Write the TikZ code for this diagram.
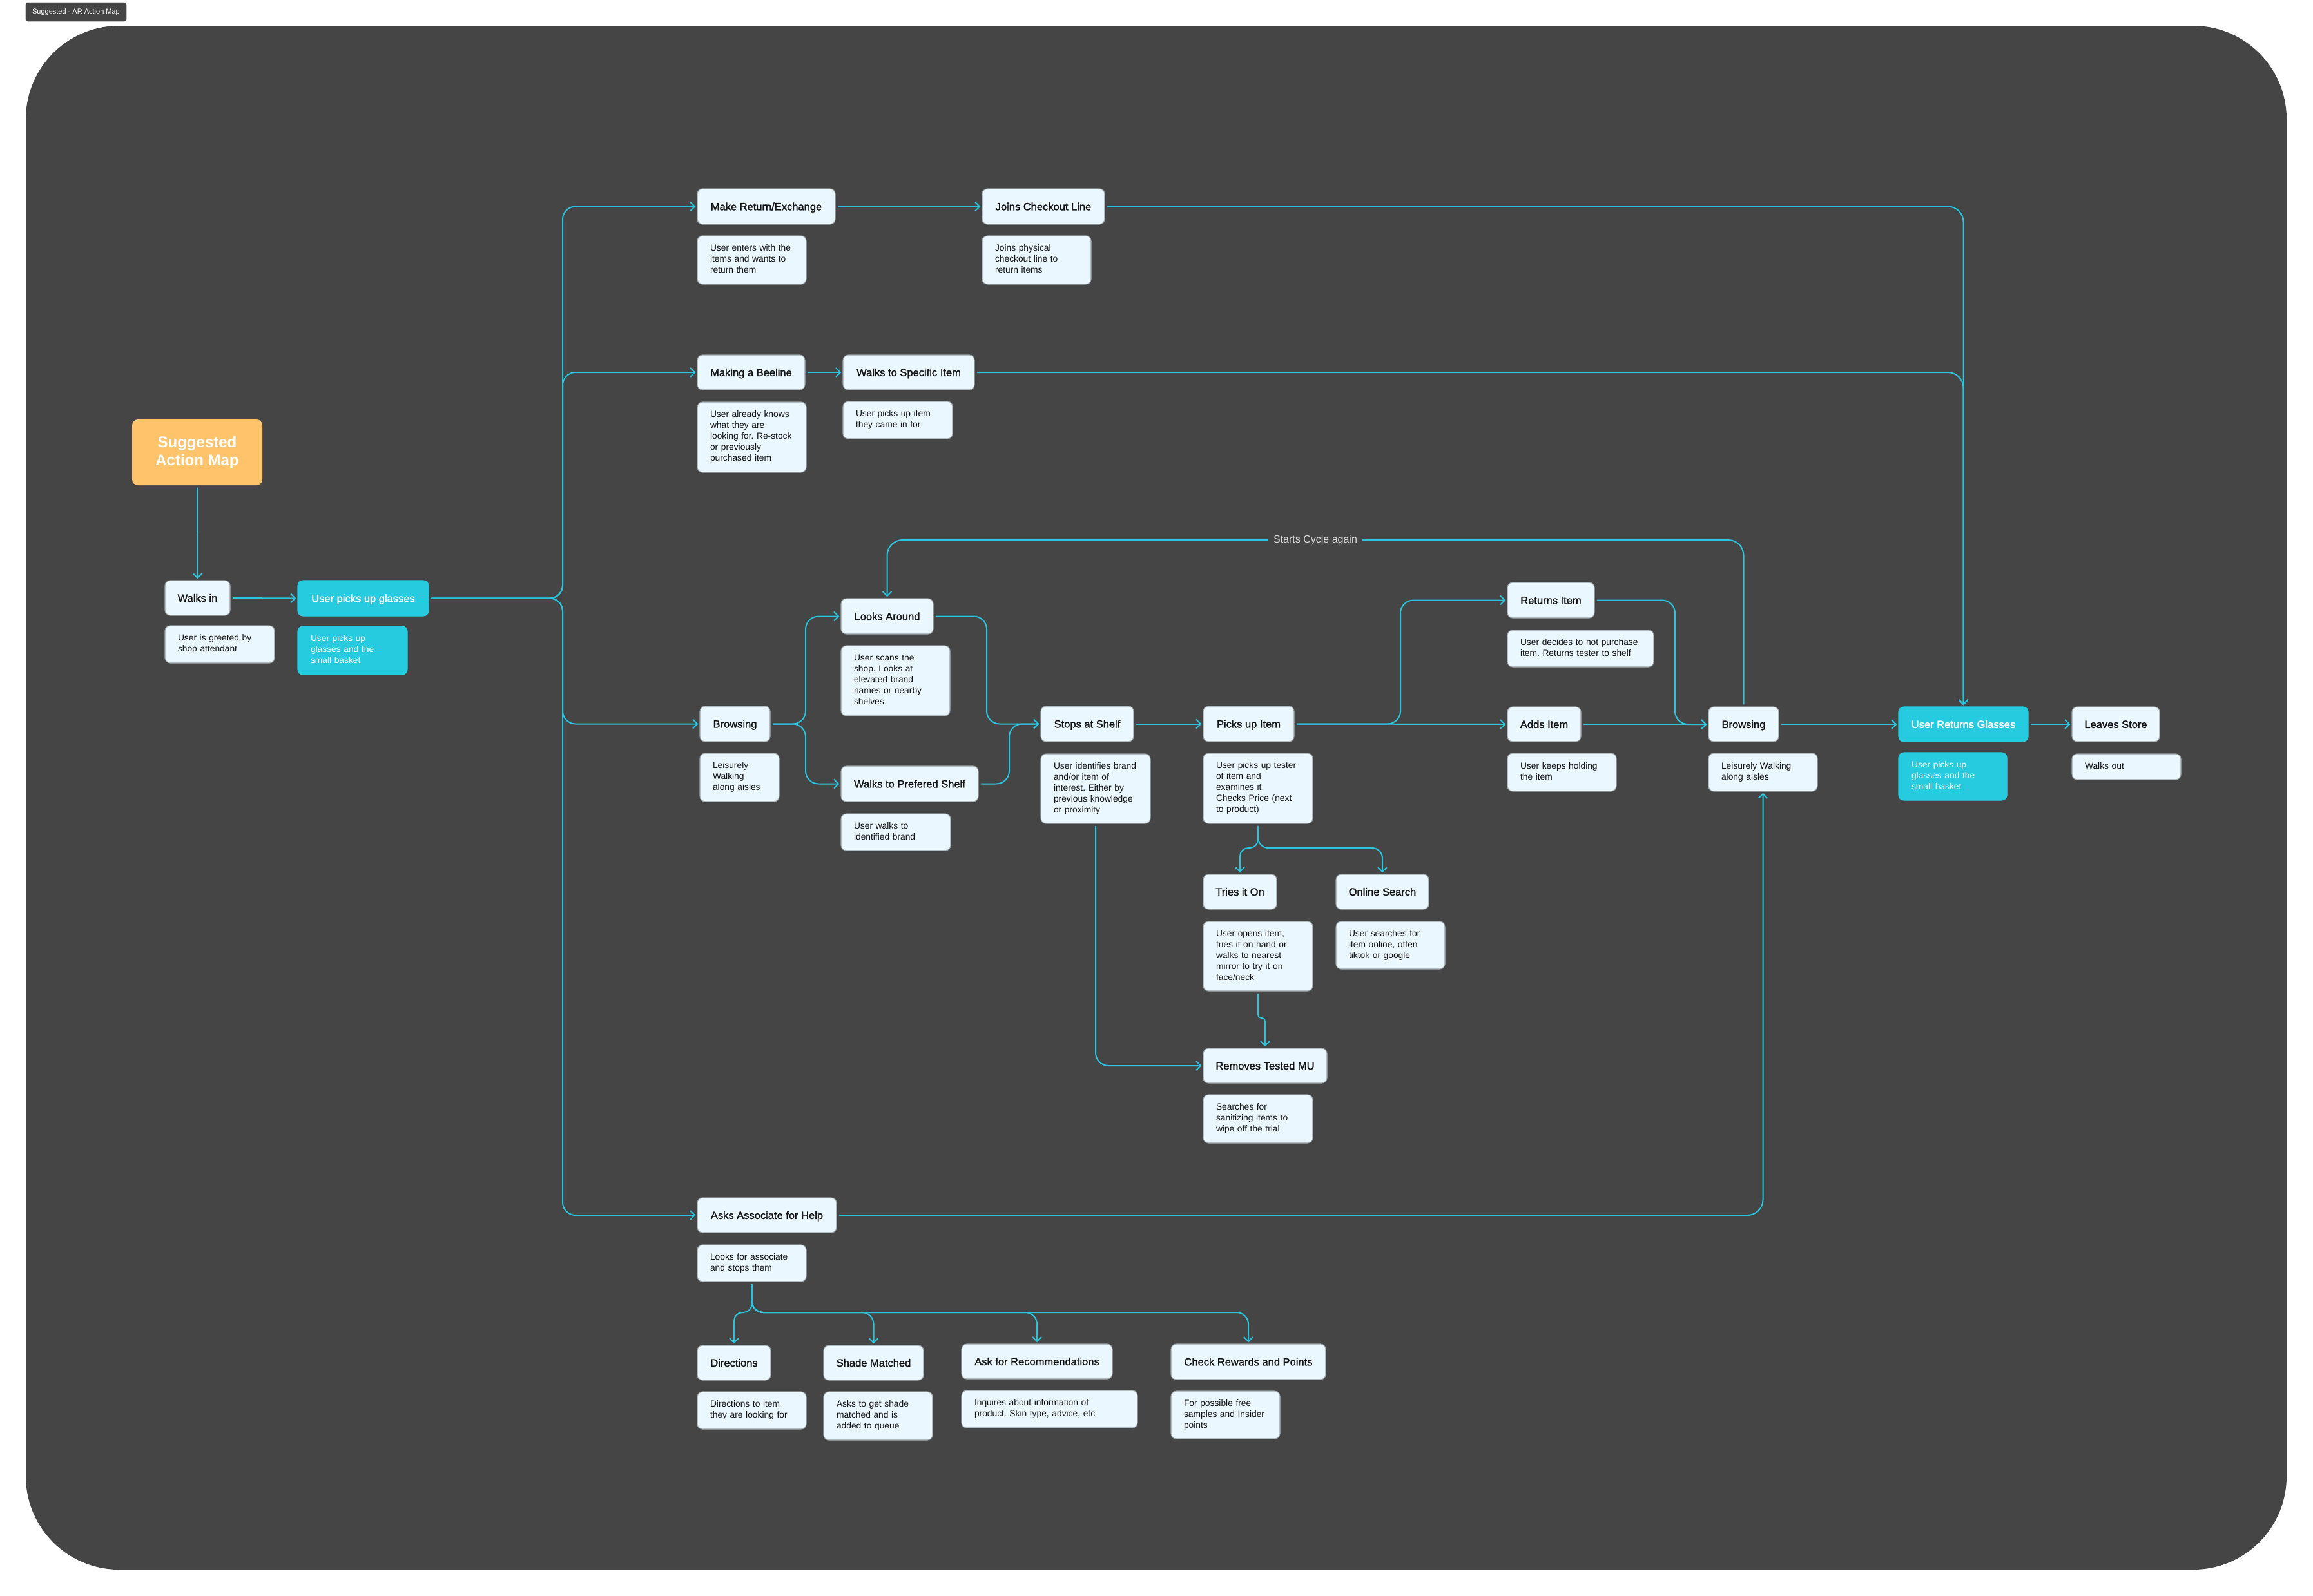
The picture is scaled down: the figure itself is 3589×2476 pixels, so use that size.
\documentclass[tikz,border=0pt]{standalone}
\usepackage{fontspec}
\setmainfont{Liberation Sans}
\newfontface\tfont{Liberation Sans}[FakeBold=1.6]
\newfontface\bfont{Liberation Sans Bold}
\usetikzlibrary{arrows.meta}
\frenchspacing
\definecolor{bgc}{HTML}{454545}
\definecolor{lnc}{HTML}{2BC4DC}
\definecolor{boxc}{HTML}{EAF7FE}
\definecolor{boxe}{HTML}{9AA3A7}
\definecolor{cyanc}{HTML}{27CBE0}
\definecolor{orc}{HTML}{FFC46B}
\definecolor{txc}{HTML}{141414}
\definecolor{cyct}{HTML}{DADADA}
\newcommand\tnode[7][]{\node[tbox,#1,minimum width={#5-#3},minimum height={#6-#4}] (#2) at ({(#3+#5)/2},{(#4+#6)/2}) {#7};}
\newcommand\dnode[7][]{\pgfmathsetmacro\dtw{#5-#3-40}\node[dbox,#1,minimum width={#5-#3},minimum height={#6-#4},text width=\dtw pt] (#2) at ({(#3+#5)/2},{(#4+#6)/2+1}) {\begin{tabular}{@{}l@{}}#7\end{tabular}};}
\begin{document}
\begin{tikzpicture}[x=1pt,y=-1pt,
  tbox/.style={draw=boxe,line width=1.1pt,fill=boxc,rounded corners=8pt,inner sep=0pt,text=txc,font={\tfont\fontsize{16.5}{20}\selectfont},align=center,text height=11.8pt,text depth=0pt},
  dbox/.style={draw=boxe,line width=1.1pt,fill=boxc,rounded corners=8pt,inner sep=0pt,text=txc,font={\fontsize{13.8}{17}\selectfont},align=left},
  cy/.style={fill=cyanc,draw=cyanc,text=white},
  ln/.style={draw=lnc,line width=2pt,rounded corners=20pt,line cap=round,-{Straight Barb[length=7pt,width=14pt]},shorten >=2pt,shorten <=4pt},
  cyclab/.style={fill=bgc,text=cyct,font={\fontsize{16}{19}\selectfont},inner xsep=8pt,inner ysep=3pt},
]
\useasboundingbox (0,0) rectangle (3589,2476);
\fill[white] (0,0) rectangle (3589,2476);
\fill[bgc,rounded corners=145pt] (40,40) rectangle (3548,2436);
\node[fill=bgc,draw=gray,line width=0.6pt,rounded corners=3pt,text=white,font={\fontsize{11}{13}\selectfont},minimum width=156,minimum height=29,inner sep=0pt] (tag) at (118,18.5) {Suggested - AR Action Map};

\node[fill=orc,rounded corners=9pt,minimum width=202,minimum height=102,inner sep=0pt,text=white,align=center,font={\bfont\fontsize{24}{28}\selectfont}] (sug) at (306,702) {Suggested\\Action Map};

% nodes
\tnode{walk}{256}{901}{357}{955}{Walks in}
\dnode{walkd}{256}{970}{426}{1028}{User is greeted by\\shop attendant}
\tnode[cy]{ups}{462}{901}{665}{956}{User picks up glasses}
\dnode[cy]{upsd}{462}{971}{632}{1046}{User picks up\\glasses and the\\small basket}

\tnode{mre}{1082}{293}{1296}{348}{Make Return/Exchange}
\dnode{mred}{1082}{365}{1251}{440}{User enters with the\\items and wants to\\return them}
\tnode{joi}{1524}{293}{1714}{348}{Joins Checkout Line}
\dnode{joid}{1524}{365}{1693}{440}{Joins physical\\checkout line to\\return items}
\tnode{bee}{1082}{551}{1249}{605}{Making a Beeline}
\dnode{beed}{1082}{623}{1251}{732}{User already knows\\what they are\\looking for. Re-stock\\or previously\\purchased item}
\tnode{spec}{1308}{551}{1512}{605}{Walks to Specific Item}
\dnode{specd}{1308}{622}{1478}{680}{User picks up item\\they came in for}

\tnode{br1}{1086}{1096}{1195}{1151}{Browsing}
\dnode{br1d}{1086}{1168}{1209}{1243}{Leisurely\\Walking\\along aisles}
\tnode{la}{1305}{929}{1448}{984}{Looks Around}
\dnode{lad}{1305}{1001}{1474}{1110}{User scans the\\shop. Looks at\\elevated brand\\names or nearby\\shelves}
\tnode{wps}{1305}{1189}{1518}{1244}{Walks to Prefered Shelf}
\dnode{wpsd}{1305}{1262}{1475}{1319}{User walks to\\identified brand}
\tnode{sto}{1615}{1096}{1759}{1151}{Stops at Shelf}
\dnode{stod}{1615}{1169}{1785}{1277}{User identifies brand\\and/or item of\\interest. Either by\\previous knowledge\\or proximity}
\tnode{pic}{1867}{1096}{2008}{1151}{Picks up Item}
\dnode{picd}{1867}{1168}{2037}{1277}{User picks up tester\\of item and\\examines it.\\Checks Price (next\\to product)}
\tnode{tri}{1867}{1357}{1981}{1411}{Tries it On}
\dnode{trid}{1867}{1429}{2037}{1537}{User opens item,\\tries it on hand or\\walks to nearest\\mirror to try it on\\face/neck}
\tnode{onl}{2073}{1357}{2217}{1411}{Online Search}
\dnode{onld}{2073}{1429}{2242}{1503}{User searches for\\item online, often\\tiktok or google}
\tnode{rem}{1867}{1627}{2059}{1681}{Removes Tested MU}
\dnode{remd}{1867}{1698}{2037}{1773}{Searches for\\sanitizing items to\\wipe off the trial}

\tnode{ret}{2339}{904}{2474}{959}{Returns Item}
\dnode{retd}{2339}{977}{2566}{1034}{User decides to not purchase\\item. Returns tester to shelf}
\tnode{add}{2339}{1097}{2453}{1151}{Adds Item}
\dnode{addd}{2339}{1168}{2508}{1227}{User keeps holding\\the item}
\tnode{br2}{2651}{1097}{2760}{1151}{Browsing}
\dnode{br2d}{2651}{1168}{2820}{1227}{Leisurely Walking\\along aisles}
\tnode[cy]{urg}{2946}{1097}{3147}{1151}{User Returns Glasses}
\dnode[cy]{urgd}{2946}{1167}{3114}{1241}{User picks up\\glasses and the\\small basket}
\tnode{lea}{3215}{1097}{3351}{1151}{Leaves Store}
\dnode{lead}{3215}{1169}{3384}{1209}{Walks out}

\tnode{ask}{1082}{1859}{1298}{1913}{Asks Associate for Help}
\dnode{askd}{1082}{1931}{1251}{1988}{Looks for associate\\and stops them}
\tnode{dir}{1082}{2088}{1196}{2142}{Directions}
\dnode{dird}{1082}{2159}{1251}{2217}{Directions to item\\they are looking for}
\tnode{sha}{1278}{2088}{1433}{2142}{Shade Matched}
\dnode{shad}{1278}{2159}{1447}{2234}{Asks to get shade\\matched and is\\added to queue}
\tnode{rec}{1492}{2086}{1726}{2140}{Ask for Recommendations}
\dnode{recd}{1492}{2157}{1765}{2215}{Inquires about information of\\product. Skin type, advice, etc}
\tnode{chk}{1817}{2086}{2057}{2141}{Check Rewards and Points}
\dnode{chkd}{1817}{2158}{1986}{2232}{For possible free\\samples and Insider\\points}

% connectors
\draw[ln] (sug.south) -- (walk.north);
\draw[ln] (walk.east) -- (ups.west);
\coordinate (bus) at (873,0);
\draw[ln] (ups.east) -- (ups.east -| bus) -- (bus |- mre.west) -- (mre.west);
\draw[ln] (ups.east) -- (ups.east -| bus) -- (bus |- bee.west) -- (bee.west);
\draw[ln] (ups.east) -- (ups.east -| bus) -- (bus |- br1.west) -- (br1.west);
\draw[ln] (ups.east) -- (ups.east -| bus) -- (bus |- ask.west) -- (ask.west);
\draw[ln] (mre.east) -- (joi.west);
\draw[ln,rounded corners=24pt] (joi.east) -- (joi.east -| urg.north) -- (urg.north);
\draw[ln] (bee.east) -- (spec.west);
\draw[ln,rounded corners=24pt] (spec.east) -- (spec.east -| urg.north) -- (urg.north);
\coordinate (ba) at (1250,0);
\draw[ln] (br1.east) -- (br1.east -| ba) -- (ba |- la.west) -- (la.west);
\draw[ln] (br1.east) -- (br1.east -| ba) -- (ba |- wps.west) -- (wps.west);
\coordinate (bb) at (1531,0);
\coordinate (bc) at (1566,0);
\draw[ln] (la.east) -- (la.east -| bb) -- (bb |- sto.west) -- (sto.west);
\draw[ln] (wps.east) -- (wps.east -| bc) -- (bc |- sto.west) -- (sto.west);
\draw[ln] (sto.east) -- (pic.west);
\coordinate (bd) at (2173,0);
\draw[ln] (pic.east) -- (pic.east -| bd) -- (bd |- ret.west) -- (ret.west);
\draw[ln] (pic.east) -- (add.west);
\coordinate (be) at (2599,0);
\draw[ln] (ret.east) -- (ret.east -| be) -- (be |- br2.west) -- (br2.west);
\draw[ln] (add.east) -- (br2.west);
\coordinate (cyy) at (0,838);
\draw[ln,rounded corners=24pt] (br2.north) -- (br2.north |- cyy) -- (la.north |- cyy) -- (la.north);
\node[cyclab] (cyc) at (2041,838) {Starts Cycle again};
\draw[ln] (br2.east) -- (urg.west);
\draw[ln] (urg.east) -- (lea.west);
\draw[ln] (stod.south) -- (stod.south |- rem.west) -- (rem.west);
\coordinate (pky) at (0,1316);
\draw[ln,rounded corners=13pt] (picd.south) -- (picd.south |- pky) -- (tri.north |- pky) -- (tri.north);
\draw[ln,rounded corners=16pt] (picd.south) -- (picd.south |- pky) -- (onl.north |- pky) -- (onl.north);
\coordinate (tjy) at (0,1580);
\draw[ln,rounded corners=5pt] (trid.south) -- (trid.south |- tjy) -- (rem.north |- tjy) -- (rem.north);
\draw[ln,rounded corners=24pt] (ask.east) -- (ask.east -| br2d.south) -- (br2d.south);
\coordinate (aky) at (0,2037);
\draw[ln,rounded corners=13pt] (askd.south) -- (askd.south |- aky) -- (dir.north |- aky) -- (dir.north);
\draw[ln,rounded corners=18pt] (askd.south) -- (askd.south |- aky) -- (sha.north |- aky) -- (sha.north);
\draw[ln,rounded corners=18pt] (askd.south) -- (askd.south |- aky) -- (rec.north |- aky) -- (rec.north);
\draw[ln,rounded corners=18pt] (askd.south) -- (askd.south |- aky) -- (chk.north |- aky) -- (chk.north);
\end{tikzpicture}
\end{document}
